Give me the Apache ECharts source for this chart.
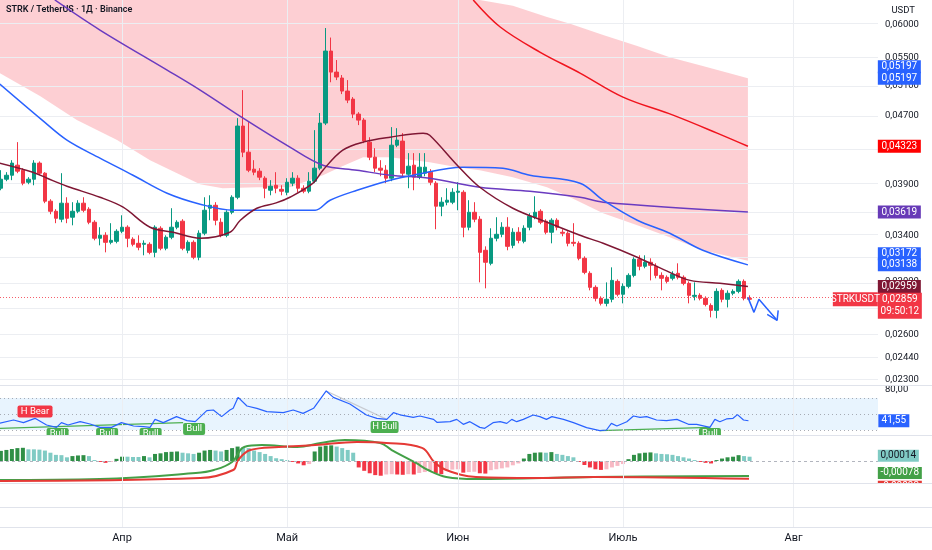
<!DOCTYPE html>
<html>
<head>
<meta charset="utf-8">
<script src="https://cdn.jsdelivr.net/npm/echarts@6/dist/echarts.min.js"></script>
<style>
html,body{margin:0;padding:0;background:#ffffff;}
#chart{width:932px;height:550px;}
</style>
</head>
<body>
<div id="chart"></div>
<script>
// ================= DATA (day 0 = 1 April) =================
const firstDay = -22;
const monthDays = [0, 30, 61, 91, 122];
const monthNames = ['Апр', 'Май', 'Июн', 'Июль', 'Авг'];
const priceTicks = [0.06, 0.055, 0.051, 0.047, 0.043, 0.039, 0.036, 0.034, 0.032, 0.030, 0.028, 0.026, 0.0244, 0.023];

// daily candles [open, close, low, high]
const candles = [
[0.03860,0.03955,0.03839,0.04053],[0.03955,0.03998,0.03934,0.04031],[0.03998,0.04131,0.03945,0.04164],[0.04108,0.04042,0.04020,0.04372],
[0.04053,0.03913,0.03891,0.04075],[0.03923,0.03955,0.03902,0.03977],[0.03955,0.04131,0.03891,0.04164],[0.04131,0.04020,0.03998,0.04150],
[0.04020,0.03727,0.03707,0.04031],[0.03727,0.03627,0.03598,0.03747],[0.03627,0.03559,0.03512,0.03647],[0.03550,0.03707,0.03521,0.04020],
[0.03707,0.03559,0.03512,0.03767],[0.03569,0.03627,0.03492,0.03717],[0.03627,0.03707,0.03608,0.03737],[0.03707,0.03637,0.03617,0.03767],
[0.03647,0.03521,0.03502,0.03667],[0.03521,0.03372,0.03353,0.03540],[0.03372,0.03399,0.03308,0.03474],[0.03399,0.03335,0.03246,0.03427],
[0.03335,0.03353,0.03317,0.03512],[0.03344,0.03436,0.03326,0.03455],[0.03436,0.03474,0.03418,0.03588],[0.03474,0.03372,0.03291,0.03492],
[0.03363,0.03317,0.03299,0.03381],[0.03326,0.03291,0.03264,0.03399],[0.03317,0.03326,0.03220,0.03353],[0.03317,0.03246,0.03229,0.03335],
[0.03246,0.03474,0.03203,0.03492],[0.03464,0.03282,0.03264,0.03483],[0.03282,0.03381,0.03264,0.03399],[0.03381,0.03474,0.03363,0.03657],
[0.03474,0.03521,0.03455,0.03540],[0.03531,0.03282,0.03264,0.03550],[0.03264,0.03335,0.03238,0.03353],[0.03335,0.03203,0.03186,0.03353],
[0.03203,0.03418,0.03177,0.03445],[0.03418,0.03637,0.03399,0.03767],[0.03657,0.03686,0.03540,0.03787],[0.03686,0.03540,0.03492,0.03717],
[0.03521,0.03399,0.03381,0.03559],[0.03399,0.03617,0.03381,0.03637],[0.03617,0.03767,0.03598,0.03787],[0.03767,0.04566,0.03747,0.04665],
[0.04566,0.04255,0.04198,0.05032],[0.04255,0.04053,0.04031,0.04615],[0.04064,0.04031,0.03998,0.04164],[0.04042,0.03977,0.03945,0.04075],
[0.03966,0.03860,0.03757,0.03987],[0.03839,0.03881,0.03787,0.03945],[0.03891,0.03860,0.03808,0.04031],[0.03849,0.03829,0.03787,0.03891],
[0.03818,0.03923,0.03787,0.03966],[0.03913,0.03966,0.03881,0.04031],[0.03966,0.03860,0.03818,0.03998],[0.03860,0.03829,0.03808,0.03891],
[0.03829,0.03934,0.03808,0.04031],[0.03934,0.04075,0.03913,0.04516],[0.04075,0.04603,0.04053,0.04730],[0.04603,0.05592,0.04578,0.05951],
[0.05592,0.05283,0.05140,0.05800],[0.05283,0.05213,0.05170,0.05458],[0.05199,0.05019,0.04978,0.05241],[0.05019,0.04898,0.04858,0.05170],
[0.04911,0.04716,0.04665,0.04938],[0.04716,0.04640,0.04578,0.04741],[0.04640,0.04384,0.04360,0.04665],[0.04372,0.04198,0.04164,0.04430],
[0.04198,0.04075,0.04031,0.04301],[0.04075,0.04053,0.03987,0.04164],[0.04053,0.03966,0.03913,0.04108],[0.03966,0.04336,0.03934,0.04553],
[0.04336,0.04396,0.04313,0.04540],[0.04384,0.04020,0.03987,0.04480],[0.04009,0.04097,0.03860,0.04244],[0.04108,0.03977,0.03839,0.04244],
[0.03977,0.04086,0.03955,0.04244],[0.04020,0.04086,0.03987,0.04244],[0.04031,0.03923,0.03891,0.04064],[0.03913,0.03677,0.03455,0.03934],
[0.03677,0.03717,0.03579,0.03767],[0.03717,0.03737,0.03686,0.03860],[0.03717,0.03818,0.03697,0.03860],[0.03818,0.03829,0.03637,0.03923],
[0.03818,0.03474,0.03381,0.03839],[0.03474,0.03617,0.03445,0.03737],[0.03617,0.03550,0.03521,0.03717],[0.03550,0.03246,0.02993,0.03579],
[0.03264,0.03160,0.02945,0.03299],[0.03151,0.03372,0.03134,0.03464],[0.03372,0.03408,0.03344,0.03569],[0.03408,0.03474,0.03381,0.03521],
[0.03474,0.03299,0.03264,0.03569],[0.03308,0.03427,0.03282,0.03464],[0.03427,0.03353,0.03326,0.03474],[0.03344,0.03464,0.03326,0.03492],
[0.03474,0.03579,0.03445,0.03608],[0.03569,0.03617,0.03550,0.03777],[0.03627,0.03521,0.03502,0.03647],[0.03531,0.03427,0.03408,0.03550],
[0.03427,0.03540,0.03326,0.03559],[0.03540,0.03474,0.03445,0.03559],[0.03427,0.03418,0.03390,0.03455],[0.03418,0.03326,0.03299,0.03436],
[0.03335,0.03326,0.03299,0.03512],[0.03326,0.03194,0.03177,0.03344],[0.03194,0.03075,0.03059,0.03211],[0.03067,0.02953,0.02929,0.03084],
[0.02953,0.02867,0.02843,0.02969],[0.02867,0.02828,0.02812,0.02882],[0.02828,0.02859,0.02805,0.02993],[0.02859,0.03009,0.02836,0.03117],
[0.03001,0.02898,0.02882,0.03017],[0.02898,0.02961,0.02828,0.02985],[0.02961,0.03050,0.02945,0.03067],[0.03050,0.03186,0.03034,0.03203],
[0.03186,0.03126,0.03092,0.03220],[0.03126,0.03160,0.03109,0.03220],[0.03160,0.03134,0.03009,0.03194],[0.03126,0.03050,0.03026,0.03151],
[0.03050,0.03026,0.02929,0.03075],[0.03034,0.03001,0.02985,0.03050],[0.03026,0.03059,0.03009,0.03084],[0.03067,0.03034,0.03017,0.03151],
[0.03034,0.02985,0.02969,0.03050],[0.02985,0.02890,0.02828,0.03001],[0.02882,0.02890,0.02851,0.02993],[0.02890,0.02867,0.02851,0.02906],
[0.02867,0.02820,0.02805,0.02882],[0.02812,0.02775,0.02723,0.02828],[0.02775,0.02921,0.02716,0.02945],[0.02929,0.02859,0.02836,0.02945],
[0.02859,0.02906,0.02797,0.02929],[0.02906,0.02921,0.02890,0.02937],[0.02921,0.03001,0.02906,0.03017],[0.03001,0.02867,0.02851,0.03017],
[0.02867,0.02859,0.02836,0.02890]
];

// moving averages [day, price]
const ma20 = [[-22.2,0.04131],[-16.2,0.04031],[-13.6,0.03966],[-10,0.03881],[-4,0.03767],[0.2,0.03667],[5.1,0.03474],[9.3,0.03427],[14.2,0.03372],[19.6,0.03427],[21.5,0.03540],[24.5,0.03657],[28,0.03710],[30.5,0.03767],[34.7,0.03913],[36.5,0.04053],[40.1,0.04278],[43.8,0.04372],[48.7,0.04431],[54.7,0.04479],[55.9,0.04455],[60.9,0.04108],[65,0.03870],[71,0.03657],[77.2,0.03521],[83.2,0.03399],[87.4,0.03326],[93.6,0.03203],[99.5,0.03075],[103.2,0.03009],[108.6,0.02985],[113.7,0.02959]];
const ma50 = [[-22.2,0.05115],[-14.5,0.04640],[-10,0.04396],[-4,0.04187],[2,0.03998],[8.2,0.03808],[14.2,0.03697],[20.2,0.03637],[30.5,0.03637],[35.1,0.03637],[37.8,0.03737],[42.7,0.03839],[48.7,0.03945],[52.9,0.03998],[61.9,0.04086],[69.2,0.04075],[74.1,0.03998],[83.2,0.03913],[87.4,0.03737],[93.6,0.03540],[99.5,0.03418],[105.5,0.03264],[113.7,0.03138]];
const ma100 = [[-12.2,0.06420],[-4,0.05919],[8.2,0.05312],[14.2,0.05032],[22,0.04664],[30.5,0.04313],[36.5,0.04108],[42.7,0.04053],[48.7,0.03998],[55.9,0.03966],[65,0.03870],[74.1,0.03829],[83.2,0.03767],[87.4,0.03717],[113.7,0.03619]];
const ma200 = [[63.8,0.06420],[68.7,0.05968],[75.9,0.05577],[83.2,0.05269],[91,0.04938],[100.1,0.04703],[108.1,0.04480],[113.7,0.04323]];

// shaded band [day, price]
const bandUpper = [[-22.2,0.0971],[-8.2,0.0897],[5.1,0.0850],[14.2,0.0819],[24.5,0.0782],[30.5,0.0762],[36.5,0.0737],[43.8,0.0712],[48.7,0.0697],[55.9,0.0673],[60.9,0.0659],[65,0.0647],[71,0.0632],[77.2,0.0613],[81.4,0.0602],[87.4,0.0584],[93.6,0.0567],[99.5,0.0550],[105.5,0.0537],[113.7,0.05197]];
const bandLower = [[-22.2,0.05269],[-14.9,0.04951],[-8.2,0.04640],[-0.9,0.04396],[5.1,0.04164],[10,0.04020],[14.2,0.03902],[18.3,0.03860],[24.5,0.03870],[30.5,0.03870],[36.5,0.03998],[39.6,0.04086],[43.8,0.04198],[48.7,0.04198],[55.9,0.04142],[60.9,0.04086],[65,0.04053],[71,0.03977],[77.2,0.03870],[81.4,0.03767],[87.4,0.03608],[93.6,0.03492],[99.5,0.03381],[105.5,0.03264],[113.7,0.03172]];

// drawn projection arrow [day, price]
const projection = [[113.7,0.02874],[114.8,0.02760],[115.7,0.02859],[119.0,0.02701]];
const projectionHead = [[117.2,0.02745],[119.0,0.02701],[119.2,0.02775]];

// RSI [day, value]
const rsi = [[-22.2,38.4],[-19.7,42.5],[-17.9,39.2],[-15.8,44.6],[-13.7,36.3],[-11.9,33.3],[-11,39.2],[-9.8,36.3],[-7.6,40.4],[-5.8,37.5],[-4,33.3],[-1.9,33.3],[-0.1,39.2],[2.1,35],[3.9,34.2],[5.1,33.3],[6,43.3],[7.5,39.2],[9.9,46.7],[11.8,41.7],[13.3,40.4],[15.4,54.2],[16.6,55],[18.1,46.7],[19.6,55],[20.2,57.1],[21.1,70.8],[22.7,60],[24.5,57.1],[26.3,52.9],[29.3,51.7],[31.1,55],[32.9,50.8],[34.8,57.1],[37.1,78.8],[38.4,70.8],[41.4,62.5],[44.4,48.8],[46.3,44.6],[48.1,43.3],[49.3,51.7],[50.5,49],[52.9,45.8],[54.1,47.5],[56.6,43.3],[57.2,39.6],[59.6,40.4],[60.8,43.3],[62,37.1],[63.2,40.4],[65,33.3],[65.9,32.1],[67.4,39.2],[68.7,40.4],[69.9,38.3],[70.8,43.3],[71.7,40.4],[72.9,43.3],[74.7,48.8],[75.9,46.7],[77.1,43.3],[78.1,46.7],[80.2,43.3],[82,39.2],[84.4,32.9],[86.8,29.2],[88,30],[88.9,38.3],[89.9,35],[91.7,40.4],[92.9,47.5],[94.1,45.8],[95.3,46.7],[97.1,42.5],[98.9,41.7],[100.8,43.3],[102.9,37.1],[104.4,37.1],[106.8,33.3],[107.7,43.3],[108.6,40.4],[109.8,43.8],[111,44.6],[111.8,49.2],[112.9,42.5],[113.8,41.55]];
const rsiBullLines = [[[-22.2,32.1],[11.1,39.1]], [[86.8,29.2],[106.8,33.4]]];
const rsiHiddenLine = [[37.1,78.8],[48.1,43.3]];
const rsiTags = [['H Bear',-15.8,53.1],['Bull',-11.7,25],['Bull',-2.7,25],['Bull',5.2,25],['Bull',13.1,31.25],['H Bull',47.7,33.75],['Bull',106.8,25]];

// MACD
const macdHist = [0.00033,0.00036,0.00039,0.00042,0.00043,0.00038,0.00038,0.00037,0.00034,0.00027,0.00020,0.00019,0.00012,0.00016,0.00018,0.00019,0.00016,0.00003,-0.00003,-0.00006,-0.00003,0.00007,0.00014,0.00014,0.00013,0.00013,0.00016,0.00012,0.00023,0.00025,0.00029,0.00030,0.00031,0.00027,0.00025,0.00023,0.00027,0.00034,0.00036,0.00034,0.00031,0.00036,0.00042,0.00047,0.00045,0.00042,0.00034,0.00029,0.00023,0.00016,0.00009,0.00006,0.00003,-0.00003,-0.00008,-0.00014,-0.00010,0.00031,0.00047,0.00050,0.00051,0.00047,0.00042,0.00036,0.00027,-0.00021,-0.00032,-0.00040,-0.00046,-0.00048,-0.00044,-0.00043,-0.00044,-0.00045,-0.00043,-0.00044,-0.00039,-0.00036,-0.00031,-0.00040,-0.00043,-0.00031,-0.00028,-0.00027,-0.00038,-0.00036,-0.00035,-0.00040,-0.00041,-0.00030,-0.00027,-0.00024,-0.00021,-0.00014,-0.00008,0.00008,0.00023,0.00027,0.00028,0.00027,0.00029,0.00023,0.00020,0.00016,0.00012,-0.00003,-0.00013,-0.00021,-0.00027,-0.00029,-0.00027,-0.00021,-0.00016,-0.00010,0.00006,0.00020,0.00025,0.00027,0.00028,0.00025,0.00023,0.00022,0.00020,0.00016,0.00012,0.00008,0.00003,-0.00003,-0.00006,-0.00008,0.00003,0.00008,0.00012,0.00014,0.00019,0.00016,0.00014];
const macdLine = [[-22.2,-0.00099],[-4,-0.00094],[13.4,-0.00063],[16.7,-0.00047],[20,-0.00005],[22.2,0.00073],[25.4,0.00083],[31.8,0.00073],[36.1,0.00094],[40.5,0.00109],[46.9,0.00094],[49,0.00057],[53.4,-0.00010],[55.6,-0.00047],[58.9,-0.00083],[64.3,-0.00094],[85.7,-0.00083],[113.9,-0.00078]];
const signalLine = [[-22.2,-0.00104],[14.2,-0.00089],[20.2,-0.00047],[21.1,0.00005],[23.3,0.00057],[28.5,0.00073],[35.1,0.00083],[42.7,0.00099],[48,0.00094],[54.5,0.00068],[56.7,-0.00005],[58.9,-0.00047],[64.3,-0.00083],[75,-0.00089],[85.7,-0.00083],[113.9,-0.00093]];

// values printed on the price scale
const priceBadges = [0.05197, 0.05197, 0.04323, 0.03619, 0.03172, 0.03138, 0.02959];
const lastTime = '09:50:12';

// ================= RENDERING =================
const FONT = 'Roboto, "Noto Sans", Arial, sans-serif';
const L = Math.log;
const xMin = -22.16, xMax = 137.33;
const pMin = 0.02268, pMax = 0.064195;
const fmt5 = v => (v < 0 ? '-' : '') + Math.abs(v).toFixed(5).replace('.', ',');
const GRIDC = '#eceef2';
const C_UP = '#089981', C_DN = '#f23645';
const lastClose = candles[candles.length - 1][1];
const lastRsi = rsi[rsi.length - 1][1];
const xEdge = xMax - 0.03;

const chart = echarts.init(document.getElementById('chart'), null, {renderer: 'canvas'});

function xAxisFor(gi, labels) {
  return {
    type: 'value', gridIndex: gi, min: xMin, max: xMax,
    axisLine: {show: false}, axisTick: {show: false}, splitLine: {show: false},
    axisLabel: labels ? {
      show: true, customValues: monthDays,
      formatter: v => { const k = monthDays.indexOf(Math.round(v)); return k >= 0 ? monthNames[k] : ''; },
      color: '#131722', fontSize: 11, fontFamily: FONT, margin: 6
    } : {show: false}
  };
}
function helper(xi, yi, yv, extra) {
  return {
    type: 'line', xAxisIndex: xi, yAxisIndex: yi, data: [[xMin + 1, yv]], symbol: 'none',
    silent: true, z: 0, lineStyle: {opacity: 0}, animation: false,
    markLine: {
      silent: true, symbol: 'none', animation: false, label: {show: false},
      lineStyle: {color: GRIDC, width: 1, type: 'solid'},
      data: monthDays.map(d => ({xAxis: d})).concat(extra || [])
    }
  };
}
function badge(x, y, text, bg, fg, w, h, dx, dy) {
  return {
    coord: [x, y], symbol: 'rect', symbolSize: [w, h], symbolOffset: [dx, dy],
    itemStyle: {color: bg},
    label: {show: true, position: 'inside', formatter: text, color: fg, fontSize: 10, fontFamily: FONT, lineHeight: 12}
  };
}
const histColor = (v, p) => v >= 0 ? (v > p ? '#2f8f46' : '#80cbc4') : (v < p ? '#f23645' : '#f7b9c4');
const badgeStyle = [
  {c: '#2962ff', dy: -11.5}, {c: '#2962ff', dy: 0}, {c: '#ff0000', dy: 0}, {c: '#673ab7', dy: 0},
  {c: '#2962ff', dy: -7}, {c: '#2962ff', dy: 0}, {c: '#7f1734', dy: 0}
];
const tagStyle = {'H Bear': {bg: '#f23645', w: 35}, 'Bull': {bg: '#4caf50', w: 22}, 'H Bull': {bg: '#4caf50', w: 28}};

const option = {
  animation: false,
  backgroundColor: '#ffffff',
  textStyle: {fontFamily: FONT},
  title: [
    {text: 'STRK / TetherUS · 1Д · Binance', left: 6, top: 5, padding: 0,
     textStyle: {fontSize: 9, fontWeight: 600, color: '#131722', fontFamily: FONT}},
    {text: 'USDT', right: 17, top: 6, padding: 0,
     textStyle: {fontSize: 9.5, fontWeight: 'normal', color: '#131722', fontFamily: FONT}}
  ],
  grid: [
    {left: 0, right: 54, top: 0, height: 385},
    {left: 0, right: 54, top: 385, height: 50},
    {left: 0, right: 54, top: 435, height: 48},
    {left: 0, right: 54, top: 483, height: 44}
  ],
  xAxis: [xAxisFor(0, false), xAxisFor(1, false), xAxisFor(2, false), xAxisFor(3, true)],
  yAxis: [
    {type: 'value', gridIndex: 0, position: 'right', min: L(pMin), max: L(pMax),
     axisLine: {show: false}, axisTick: {show: false, customValues: priceTicks.map(L)}, splitLine: {show: false},
     axisLabel: {show: true, customValues: priceTicks.map(L), formatter: v => fmt5(Math.exp(v)),
       color: '#131722', fontSize: 9.5, fontFamily: FONT, margin: 7}},
    {type: 'value', gridIndex: 1, position: 'right', min: 23.75, max: 86.25,
     axisLine: {show: false}, axisTick: {show: false, customValues: [80]}, splitLine: {show: false},
     axisLabel: {show: true, customValues: [80], formatter: v => v.toFixed(2).replace('.', ','),
       color: '#131722', fontSize: 9.5, fontFamily: FONT, margin: 7}},
    {type: 'value', gridIndex: 2, position: 'right', min: -0.001146, max: 0.001354,
     axisLine: {show: false}, axisTick: {show: false}, splitLine: {show: false}, axisLabel: {show: false}},
    {type: 'value', gridIndex: 2, position: 'right', min: -0.000717, max: 0.000847,
     axisLine: {show: false}, axisTick: {show: false}, splitLine: {show: false}, axisLabel: {show: false}},
    {type: 'value', gridIndex: 3, position: 'right', min: 0, max: 1,
     axisLine: {show: false}, axisTick: {show: false}, splitLine: {show: false}, axisLabel: {show: false}}
  ],
  graphic: [
    {type: 'rect', silent: true, z: 99, shape: {x: 876, y: 484, width: 56, height: 22}, style: {fill: '#ffffff'}}
  ].concat([385, 435, 483, 507, 527].map(y => ({
    type: 'line', silent: true, z: 100,
    shape: {x1: 0, y1: y + 0.5, x2: 932, y2: y + 0.5},
    style: {stroke: '#e0e3eb', lineWidth: 1}
  }))),
  series: [
    helper(0, 0, L(0.03), priceTicks.map(t => ({yAxis: L(t)}))),
    helper(1, 1, 50),
    helper(2, 2, 0),
    helper(3, 4, 0.5),
    // shaded band
    {
      type: 'custom', xAxisIndex: 0, yAxisIndex: 0, z: 1, silent: true, clip: true,
      data: [[bandLower[0][0], L(bandLower[0][1])]],
      renderItem: (params, api) => {
        const top = params.coordSys.y;
        const up = bandUpper.map(p => { const c = api.coord([p[0], L(p[1])]); return [c[0], Math.max(c[1], top)]; });
        const lo = bandLower.map(p => api.coord([p[0], L(p[1])])).reverse();
        return {type: 'polygon', shape: {points: up.concat(lo)}, style: {fill: 'rgba(248,84,96,0.28)'}};
      }
    },
    // candles
    {
      type: 'candlestick', xAxisIndex: 0, yAxisIndex: 0, z: 10, barWidth: 4,
      encode: {x: 0, y: [1, 2, 3, 4]},
      data: candles.map((c, i) => [firstDay + i, L(c[0]), L(c[1]), L(c[2]), L(c[3])]),
      itemStyle: {color: C_UP, color0: C_DN, borderColor: C_UP, borderColor0: C_DN, borderWidth: 1},
      markLine: {
        silent: true, symbol: 'none', animation: false, label: {show: false},
        lineStyle: {color: C_DN, width: 1, type: [1, 2], opacity: 0.8},
        data: [{yAxis: L(lastClose)}]
      },
      markPoint: {
        animation: false, silent: true,
        data: priceBadges.map((v, k) => badge(xEdge, L(v), fmt5(v), badgeStyle[k].c, '#ffffff', 43, 13, 21.5, badgeStyle[k].dy))
          .concat([
            badge(xEdge, L(lastClose), fmt5(lastClose) + '\n' + lastTime, C_DN, '#ffffff', 44, 26, 22, 6.5),
            badge(xEdge, L(lastClose), 'STRKUSDT', C_DN, '#ffffff', 45, 14, -22.5, 0)
          ])
      }
    },
    {type: 'line', xAxisIndex: 0, yAxisIndex: 0, z: 11, symbol: 'none', smooth: 0.35,
     data: ma200.map(p => [p[0], L(p[1])]), lineStyle: {color: '#f0141e', width: 1.5}},
    {type: 'line', xAxisIndex: 0, yAxisIndex: 0, z: 11, symbol: 'none', smooth: 0.35,
     data: ma100.map(p => [p[0], L(p[1])]), lineStyle: {color: '#6a3bc0', width: 1.5}},
    {type: 'line', xAxisIndex: 0, yAxisIndex: 0, z: 11, symbol: 'none', smooth: 0.35,
     data: ma50.map(p => [p[0], L(p[1])]), lineStyle: {color: '#2962ff', width: 1.5}},
    {type: 'line', xAxisIndex: 0, yAxisIndex: 0, z: 11, symbol: 'none', smooth: 0.35,
     data: ma20.map(p => [p[0], L(p[1])]), lineStyle: {color: '#7f1734', width: 1.5}},
    {type: 'line', xAxisIndex: 0, yAxisIndex: 0, z: 12, symbol: 'none',
     data: projection.map(p => [p[0], L(p[1])]), lineStyle: {color: '#2962ff', width: 1.5}},
    {type: 'line', xAxisIndex: 0, yAxisIndex: 0, z: 12, symbol: 'none',
     data: projectionHead.map(p => [p[0], L(p[1])]), lineStyle: {color: '#2962ff', width: 1.5}},
    // RSI
    {
      type: 'line', xAxisIndex: 1, yAxisIndex: 1, z: 5, symbol: 'none', data: rsi,
      lineStyle: {color: '#2962ff', width: 1.2},
      markArea: {silent: true, itemStyle: {color: 'rgba(33,150,243,0.10)'}, data: [[{yAxis: 30}, {yAxis: 70}]]},
      markLine: {
        silent: true, symbol: 'none', animation: false, label: {show: false},
        lineStyle: {color: '#9598a1', width: 1, type: [1, 3], opacity: 0.8},
        data: [{yAxis: 70}, {yAxis: 50}, {yAxis: 30}]
      },
      markPoint: {
        animation: false, silent: true,
        data: [badge(xEdge, lastRsi, lastRsi.toFixed(2).replace('.', ','), '#2962ff', '#ffffff', 31, 13, 16, 0)]
      }
    },
    ...rsiBullLines.map(seg => ({type: 'line', xAxisIndex: 1, yAxisIndex: 1, z: 4, symbol: 'none', data: seg,
      lineStyle: {color: '#4caf50', width: 1.2}})),
    {type: 'line', xAxisIndex: 1, yAxisIndex: 1, z: 4, symbol: 'none', data: rsiHiddenLine,
     lineStyle: {color: '#c8cbd2', width: 1.2}},
    {
      type: 'custom', xAxisIndex: 1, yAxisIndex: 1, z: 6, silent: true, clip: true,
      data: rsiTags.map(t => [t[1], t[2]]),
      renderItem: (params, api) => {
        const t = rsiTags[params.dataIndex];
        const st = tagStyle[t[0]];
        const p = api.coord([api.value(0), api.value(1)]);
        const h = 12;
        return {type: 'group', children: [
          {type: 'rect', shape: {x: p[0] - st.w / 2, y: p[1] - h / 2, width: st.w, height: h, r: 2}, style: {fill: st.bg}},
          {type: 'text', style: {text: t[0], x: p[0], y: p[1], align: 'center', verticalAlign: 'middle',
            fill: '#ffffff', font: '9.5px ' + FONT}}
        ]};
      }
    },
    // MACD
    {
      type: 'bar', xAxisIndex: 2, yAxisIndex: 3, z: 3, barWidth: 4,
      data: macdHist.map((v, i) => ({value: [firstDay + i, v], itemStyle: {color: histColor(v, i > 0 ? macdHist[i - 1] : 0)}})),
      markLine: {
        silent: true, symbol: 'none', animation: false, label: {show: false},
        lineStyle: {color: '#b2b5be', width: 1, type: [3, 3]},
        data: [{yAxis: 0}]
      },
      markPoint: {
        animation: false, silent: true,
        data: [badge(xEdge, macdHist[macdHist.length - 1], fmt5(macdHist[macdHist.length - 1]), '#80cbc4', '#131722', 41, 12, 20.5, -1)]
      }
    },
    {
      type: 'line', xAxisIndex: 2, yAxisIndex: 2, z: 4, symbol: 'none', smooth: 0.4, data: macdLine,
      lineStyle: {color: '#43a047', width: 2},
      markPoint: {animation: false, silent: true,
        data: [badge(xEdge, macdLine[macdLine.length - 1][1], fmt5(macdLine[macdLine.length - 1][1]), '#43a047', '#ffffff', 44, 12, 22, -3)]}
    },
    {
      type: 'line', xAxisIndex: 2, yAxisIndex: 2, z: 4, symbol: 'none', smooth: 0.4, data: signalLine,
      lineStyle: {color: '#e53935', width: 2},
      markPoint: {animation: false, silent: true,
        data: [badge(xEdge, signalLine[signalLine.length - 1][1], fmt5(signalLine[signalLine.length - 1][1]), '#e53935', '#ffffff', 44, 12, 22, 8)]}
    }
  ]
};
chart.setOption(option);
</script>
</body>
</html>
